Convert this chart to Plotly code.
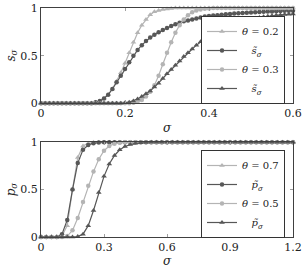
import plotly.graph_objects as go

# ---------------- data: top panel ----------------
sigma_top = [0.00, 0.01, 0.02, 0.03, 0.04, 0.05, 0.06, 0.07, 0.08, 0.09,
             0.10, 0.11, 0.12, 0.13, 0.14, 0.15, 0.16, 0.17, 0.18, 0.19,
             0.20, 0.21, 0.22, 0.23, 0.24, 0.25, 0.26, 0.27, 0.28, 0.29,
             0.30, 0.31, 0.32, 0.33, 0.34, 0.35, 0.36, 0.37, 0.38, 0.39,
             0.40, 0.41, 0.42, 0.43, 0.44, 0.45, 0.46, 0.47, 0.48, 0.49,
             0.50, 0.51, 0.52, 0.53, 0.54, 0.55, 0.56, 0.57, 0.58, 0.59, 0.60]

s_theta02 = [0]*13 + [0.01, 0.02, 0.05, 0.09, 0.15, 0.23, 0.32, 0.42, 0.53, 0.64,
                      0.74, 0.82, 0.88, 0.93, 0.96, 0.975, 0.985, 0.99, 0.995] + [1.0]*29

s_tilde_a = [0]*13 + [0.01, 0.025, 0.05, 0.09, 0.15, 0.22, 0.29, 0.36, 0.43, 0.50,
                      0.56, 0.61, 0.655, 0.69, 0.72, 0.745, 0.77, 0.79, 0.81, 0.83,
                      0.845, 0.86, 0.87, 0.88, 0.89, 0.90, 0.91, 0.915, 0.92, 0.925,
                      0.93, 0.934, 0.938, 0.942, 0.945, 0.948, 0.951, 0.954, 0.956, 0.958,
                      0.96, 0.962, 0.964, 0.966, 0.968, 0.97, 0.971, 0.972]

s_theta03 = [0]*22 + [0.005, 0.015, 0.035, 0.07, 0.12, 0.19, 0.29, 0.41, 0.53, 0.64,
                      0.74, 0.82, 0.88, 0.925, 0.955, 0.975, 0.985, 0.992, 0.996] + [1.0]*20

s_tilde_b = [0]*20 + [0.005, 0.012, 0.025, 0.045, 0.07, 0.10, 0.13, 0.17, 0.21, 0.26,
                      0.31, 0.355, 0.40, 0.445, 0.49, 0.53, 0.57, 0.61, 0.645, 0.68,
                      0.71, 0.735, 0.76, 0.78, 0.80, 0.818, 0.834, 0.848, 0.861, 0.873,
                      0.883, 0.892, 0.90, 0.907, 0.913, 0.918, 0.923, 0.927, 0.931, 0.934, 0.937]

# ---------------- data: bottom panel ----------------
sigma_bot = [0.0, 0.025, 0.05, 0.075, 0.1, 0.125, 0.15, 0.175, 0.2, 0.225,
             0.25, 0.275, 0.3, 0.325, 0.35, 0.375, 0.4, 0.425, 0.45, 0.475,
             0.5, 0.525, 0.55, 0.575, 0.6, 0.625, 0.65, 0.675, 0.7, 0.725,
             0.75, 0.775, 0.8, 0.825, 0.85, 0.875, 0.9, 0.925, 0.95, 0.975,
             1.0, 1.025, 1.05, 1.075, 1.1, 1.125, 1.15, 1.175, 1.2]

p_theta07 = [0]*4 + [0.01, 0.12, 0.5, 0.84, 0.96, 0.99] + [1.0]*39
p_tilde_a = [0]*4 + [0.03, 0.18, 0.5, 0.78, 0.92, 0.97, 0.99, 0.997] + [1.0]*37
p_theta05 = [0]*5 + [0.01, 0.07, 0.2, 0.37, 0.54, 0.69, 0.82, 0.91, 0.96, 0.985, 0.995] + [1.0]*33
p_tilde_b = [0]*7 + [0.005, 0.03, 0.12, 0.28, 0.47, 0.64, 0.77, 0.86, 0.92, 0.955,
                     0.975, 0.988, 0.995, 0.998] + [1.0]*28

top_ticks = [0, 0.2, 0.4, 0.6]
bot_ticks = [0, 0.3, 0.6, 0.9, 1.2]
y_ticks = [0, 0.5, 1]

LIGHT = "#b4b4b4"
DARK = "#575757"
FONT = "DejaVu Serif"

fig = go.Figure()

def add(x, y, name, color, symbol, xa, ya, legend):
    fig.add_trace(go.Scatter(
        x=x, y=y, name=name, mode="lines+markers",
        line=dict(color=color, width=1.2),
        marker=dict(color=color, symbol=symbol, size=4.5 if symbol == "circle" else 5),
        xaxis=xa, yaxis=ya, legend=legend, cliponaxis=False))

add(sigma_top, s_theta02, "<i>θ</i> = 0.2", LIGHT, "triangle-up", "x", "y", "legend")
add(sigma_top, s_tilde_a, "   <i>s̃</i><sub><i>σ</i></sub>", DARK, "circle", "x", "y", "legend")
add(sigma_top, s_theta03, "<i>θ</i> = 0.3", LIGHT, "circle", "x", "y", "legend")
add(sigma_top, s_tilde_b, "   <i>s̃</i><sub><i>σ</i></sub>", DARK, "triangle-up", "x", "y", "legend")

add(sigma_bot, p_theta07, "<i>θ</i> = 0.7", LIGHT, "triangle-up", "x2", "y2", "legend2")
add(sigma_bot, p_tilde_a, "   <i>p̃</i><sub><i>σ</i></sub>", DARK, "circle", "x2", "y2", "legend2")
add(sigma_bot, p_theta05, "<i>θ</i> = 0.5", LIGHT, "circle", "x2", "y2", "legend2")
add(sigma_bot, p_tilde_b, "   <i>p̃</i><sub><i>σ</i></sub>", DARK, "triangle-up", "x2", "y2", "legend2")

axis_common = dict(showline=True, linecolor="#404040", linewidth=1, mirror="ticks",
                   ticks="inside", ticklen=3, tickcolor="#a0a0a0", showgrid=False,
                   zeroline=False, automargin=False,
                   tickfont=dict(family=FONT, size=11, color="#222"))

tfont = dict(family=FONT, size=12, color="#222")
xtitle = dict(text="<i>σ</i>", font=tfont, standoff=4)

H = 268.0
L, R = 40.7, 293.0
T, B = 7.5, 237.0
ph = B - T

def py(y):
    return (B - y) / ph

fig.update_layout(
    width=306, height=268, margin=dict(l=L, r=306 - R, t=T, b=H - B, autoexpand=False),
    paper_bgcolor="white", plot_bgcolor="white", showlegend=True,
    font=dict(family=FONT, color="#222"),
    xaxis=dict(domain=[0, 1], range=[0, 0.6], tickvals=top_ticks, anchor="y",
               title=xtitle, **axis_common),
    yaxis=dict(domain=[py(103), 1], range=[0, 1], tickvals=y_ticks, anchor="x",
               title=dict(text="<i>s</i><sub><i>σ</i></sub>", font=tfont, standoff=2),
               **axis_common),
    xaxis2=dict(domain=[0, 1], range=[0, 1.2], tickvals=bot_ticks, anchor="y2",
                title=xtitle, **axis_common),
    yaxis2=dict(domain=[0, py(142)], range=[0, 1], tickvals=y_ticks, anchor="x2",
                title=dict(text="<i>p</i><sub><i>σ</i></sub>", font=tfont, standoff=2),
                **axis_common),
    legend=dict(x=285 / 306, xanchor="right", y=1 - 16 / H, yanchor="top",
                xref="container", yref="container",
                bgcolor="white", bordercolor="#333", borderwidth=1,
                font=dict(family=FONT, size=10), tracegroupgap=0, itemwidth=30),
    legend2=dict(x=285 / 306, xanchor="right", y=1 - 150 / H, yanchor="top",
                 xref="container", yref="container",
                 bgcolor="white", bordercolor="#333", borderwidth=1,
                 font=dict(family=FONT, size=10), tracegroupgap=0, itemwidth=30),
)

fig.write_html("out.html", config={"displayModeBar": False},
               post_script="document.body.style.margin='0';document.body.style.padding='0';")
